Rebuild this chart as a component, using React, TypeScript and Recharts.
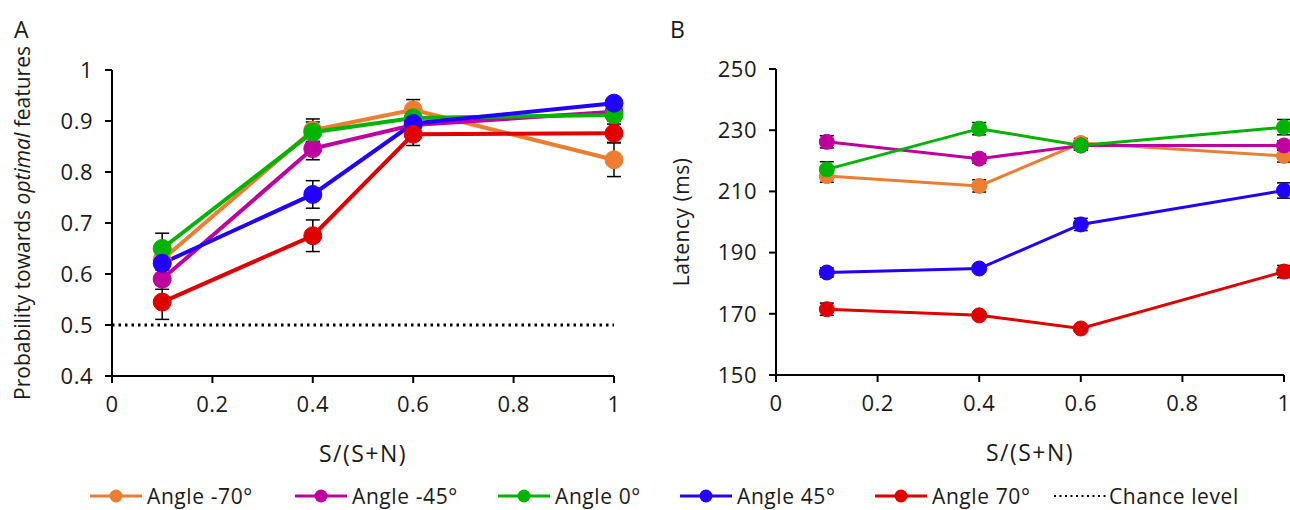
import React from 'react';
import { LineChart, Line, XAxis, YAxis, ErrorBar, ReferenceLine } from 'recharts';

// ---- data ----
const xValues = [0.1, 0.4, 0.6, 1];
const seriesNames = ['Angle -70°', 'Angle -45°', 'Angle 0°', 'Angle 45°', 'Angle 70°'];
const seriesKeys = ['m70', 'm45', 'a0', 'p45', 'p70'];
const seriesColors = ['#ED7D31', '#C0009E', '#00B400', '#2200FF', '#E00000'];

// Panel A: probability towards optimal features
const probM70 = [0.628, 0.882, 0.922, 0.824];
const probM45 = [0.590, 0.846, 0.892, 0.918];
const prob0 = [0.650, 0.878, 0.906, 0.912];
const probP45 = [0.621, 0.756, 0.895, 0.935];
const probP70 = [0.545, 0.675, 0.874, 0.876];
const probErrM70 = [0.02, 0.022, 0.02, 0.033];
const probErrM45 = [0.02, 0.022, 0.015, 0.012];
const probErr0 = [0.03, 0.02, 0.015, 0.012];
const probErrP45 = [0.02, 0.027, 0.015, 0.01];
const probErrP70 = [0.034, 0.031, 0.022, 0.018];
const chanceLevel = 0.5;

// Panel B: latency (ms)
const latM70 = [215.0, 211.8, 225.8, 221.6];
const latM45 = [226.2, 220.7, 225.0, 225.0];
const lat0 = [217.2, 230.5, 225.0, 231.0];
const latP45 = [183.5, 184.8, 199.2, 210.3];
const latP70 = [171.5, 169.5, 165.2, 183.8];
const latErrM70 = [2, 2, 1.5, 2];
const latErrM45 = [2, 1.5, 1.5, 1.5];
const latErr0 = [2.5, 2, 1.5, 2.5];
const latErrP45 = [1.5, 1, 2, 2.5];
const latErrP70 = [2, 1, 0.8, 2];

const xTicks = [0, 0.2, 0.4, 0.6, 0.8, 1];
const probTicks = [0.4, 0.5, 0.6, 0.7, 0.8, 0.9, 1];
const latTicks = [150, 170, 190, 210, 230, 250];

const probSeries = [probM70, probM45, prob0, probP45, probP70];
const probErrs = [probErrM70, probErrM45, probErr0, probErrP45, probErrP70];
const latSeries = [latM70, latM45, lat0, latP45, latP70];
const latErrs = [latErrM70, latErrM45, latErr0, latErrP45, latErrP70];

function buildTable(vals: number[][], errs: number[][]) {
  return xValues.map((x, i) => {
    const row: Record<string, number> = { x };
    seriesKeys.forEach((k, s) => {
      row[k] = vals[s][i];
      row[k + 'Err'] = errs[s][i];
    });
    return row;
  });
}

const dataA = buildTable(probSeries, probErrs);
const dataB = buildTable(latSeries, latErrs);

const FONT = '"Open Sans", "Noto Sans", sans-serif';
const TEXT = '#1a1a1a';
const TICK_FS = 22;

const XTick = (props: any) => {
  const { x, y, payload } = props;
  return (
    <text x={x} y={y + 27} textAnchor="middle" fontFamily={FONT} fontSize={TICK_FS} letterSpacing={0.5} fill={TEXT}>
      {String(payload.value)}
    </text>
  );
};

const YTick = (props: any) => {
  const { x, y, payload } = props;
  return (
    <text x={x - 10} y={y} dy="0.35em" textAnchor="end" fontFamily={FONT} fontSize={TICK_FS} letterSpacing={0.5} fill={TEXT}>
      {String(payload.value)}
    </text>
  );
};

const XTitle = (props: any) => {
  const vb = props.viewBox;
  return (
    <text x={vb.x + vb.width / 2} y={vb.y + 86} textAnchor="middle" fontFamily={FONT} fontSize={23} letterSpacing={1.5} fill={TEXT}>
      S/(S+N)
    </text>
  );
};

const YTitleA = (props: any) => {
  const vb = props.viewBox;
  const cx = 30;
  const cy = vb.y + vb.height / 2;
  return (
    <text transform={`translate(${cx},${cy}) rotate(-90)`} textAnchor="middle" fontFamily={FONT} fontSize={21} fill={TEXT}>
      <tspan>Probability towards </tspan>
      <tspan fontStyle="italic">optimal</tspan>
      <tspan> features</tspan>
    </text>
  );
};

const YTitleB = (props: any) => {
  const vb = props.viewBox;
  const cx = 44;
  const cy = vb.y + vb.height / 2;
  return (
    <text transform={`translate(${cx},${cy}) rotate(-90)`} textAnchor="middle" fontFamily={FONT} fontSize={21} letterSpacing={0.5} fill={TEXT}>
      Latency (ms)
    </text>
  );
};

const axisStroke = { stroke: '#000', strokeWidth: 2 };

function renderSeries(lineWidth: number, dotR: number) {
  return seriesKeys.map((k, s) => (
    <Line
      key={k}
      dataKey={k}
      name={seriesNames[s]}
      stroke={seriesColors[s]}
      strokeWidth={lineWidth}
      dot={{ r: dotR, fill: seriesColors[s], stroke: seriesColors[s], strokeWidth: 1 }}
      activeDot={false}
      isAnimationActive={false}
    >
      <ErrorBar dataKey={k + 'Err'} direction="y" width={7} stroke="#000" strokeWidth={1.5} />
    </Line>
  ));
}

const legendLefts = [90, 295, 498, 680, 875, 1052];

const LegendItem = ({ color, label, dotted, left }: { color: string; label: string; dotted?: boolean; left: number }) => (
  <div style={{ position: 'absolute', left, top: 0, display: 'flex', alignItems: 'center', whiteSpace: 'nowrap' }}>
    <svg width={54} height={20} style={{ marginRight: 3 }}>
      {dotted ? (
        <line x1={2} y1={10} x2={56} y2={10} stroke="#000" strokeWidth={2} strokeDasharray="2 3.5" />
      ) : (
        <>
          <line x1={0} y1={10} x2={52} y2={10} stroke={color} strokeWidth={3} />
          <circle cx={26} cy={10} r={6.5} fill={color} />
        </>
      )}
    </svg>
    <span>{label}</span>
  </div>
);

export default function App() {
  return (
    <div style={{ position: 'absolute', left: 0, top: 0, width: 1290, height: 510, background: '#fff', overflow: 'hidden', fontFamily: FONT, color: TEXT }}>
      <div style={{ position: 'absolute', left: 14, top: 13, fontSize: 23 }}>A</div>
      <div style={{ position: 'absolute', left: 670, top: 13, fontSize: 23 }}>B</div>

      <div style={{ position: 'absolute', left: 0, top: 0 }}>
        <LineChart width={650} height={510} data={dataA} margin={{ top: 70, right: 36, bottom: 74, left: 50 }}>
          <XAxis
            dataKey="x"
            type="number"
            domain={[0, 1]}
            ticks={xTicks}
            axisLine={axisStroke}
            tickLine={axisStroke}
            tickSize={7}
            tick={<XTick />}
            height={60}
            label={<XTitle />}
          />
          <YAxis
            type="number"
            domain={[0.4, 1]}
            ticks={probTicks}
            axisLine={axisStroke}
            tickLine={axisStroke}
            tickSize={7}
            tick={<YTick />}
            width={62}
            label={<YTitleA />}
          />
          <ReferenceLine
            segment={[{ x: 0, y: chanceLevel }, { x: 1, y: chanceLevel }]}
            stroke="#000"
            strokeWidth={3}
            strokeDasharray="2.5 4"
          />
          {renderSeries(4, 9)}
        </LineChart>
      </div>

      <div style={{ position: 'absolute', left: 645, top: 0 }}>
        <LineChart width={645} height={510} data={dataB} margin={{ top: 69, right: 6, bottom: 75, left: 69 }}>
          <XAxis
            dataKey="x"
            type="number"
            domain={[0, 1]}
            ticks={xTicks}
            axisLine={axisStroke}
            tickLine={axisStroke}
            tickSize={7}
            tick={<XTick />}
            height={60}
            label={<XTitle />}
          />
          <YAxis
            type="number"
            domain={[150, 250]}
            ticks={latTicks}
            axisLine={axisStroke}
            tickLine={axisStroke}
            tickSize={7}
            tick={<YTick />}
            width={62}
            label={<YTitleB />}
          />
          {renderSeries(3, 7.5)}
        </LineChart>
      </div>

      <div style={{ position: 'absolute', left: 0, top: 482, width: 1290, height: 28, fontSize: 21, letterSpacing: 0.6 }}>
        {seriesNames.map((n, i) => (
          <LegendItem key={n} color={seriesColors[i]} label={n} left={legendLefts[i]} />
        ))}
        <LegendItem color="#000" label="Chance level" dotted left={legendLefts[5]} />
      </div>
    </div>
  );
}
